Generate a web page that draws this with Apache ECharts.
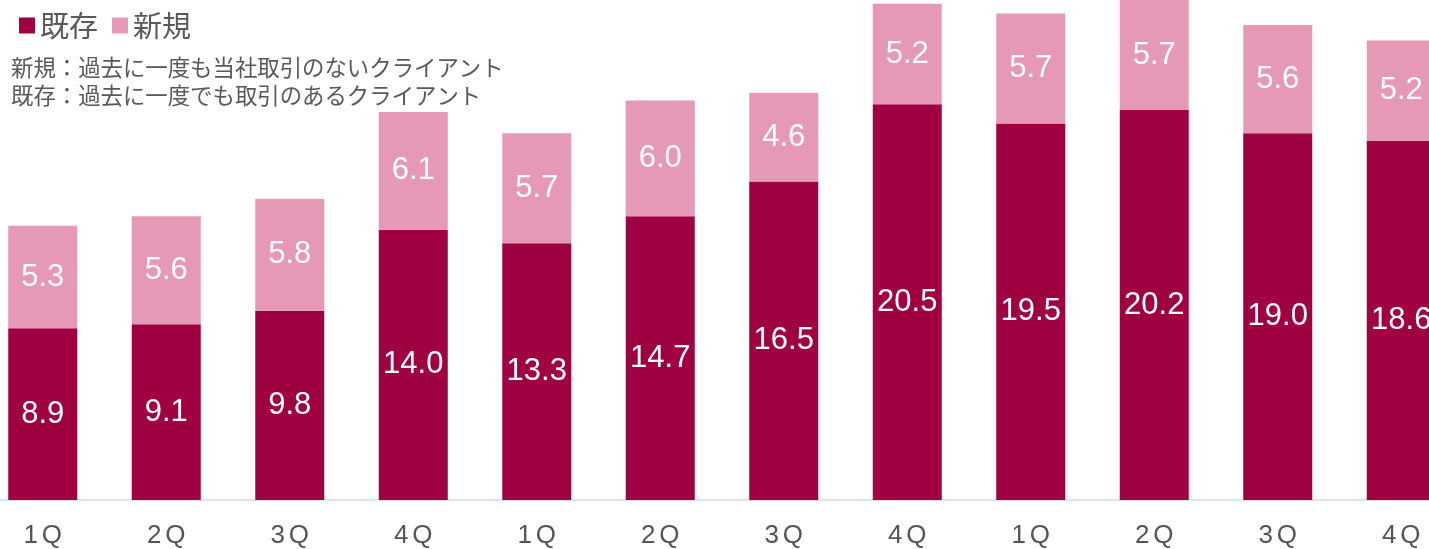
<!DOCTYPE html>
<html>
<head>
<meta charset="utf-8">
<script src="https://cdn.jsdelivr.net/npm/echarts@6/dist/echarts.min.js"></script>
<style>
html,body{margin:0;padding:0;background:#fff;overflow:hidden;width:1429px;height:549px;}
#main{width:1482px;height:549px;margin-left:-19px;}
</style>
</head>
<body>
<div id="main"></div>
<script>
const categories = ['1Q','2Q','3Q','4Q','1Q','2Q','3Q','4Q','1Q','2Q','3Q','4Q'];
const existingValues = [8.9, 9.1, 9.8, 14.0, 13.3, 14.7, 16.5, 20.5, 19.5, 20.2, 19.0, 18.6];
const newValues = [5.3, 5.6, 5.8, 6.1, 5.7, 6.0, 4.6, 5.2, 5.7, 5.7, 5.6, 5.2];
const seriesNames = ['既存', '新規'];
const noteLines = ['新規：過去に一度も当社取引のないクライアント', '既存：過去に一度でも取引のあるクライアント'];

const chart = echarts.init(document.getElementById('main'), null, {renderer: 'canvas'});
const numFont = '"Liberation Sans", Arial, sans-serif';
const jpFont = '"Noto Sans CJK JP", sans-serif';
const labelCfg = {
  show: true,
  position: 'inside',
  color: '#ffffff',
  fontSize: 31,
  fontFamily: numFont,
  formatter: p => p.value.toFixed(1)
};
chart.setOption({
  animation: false,
  backgroundColor: '#ffffff',
  legend: {
    left: 33,
    top: 6,
    icon: 'rect',
    itemWidth: 16,
    itemHeight: 16,
    itemGap: 14,
    textStyle: {fontSize: 29, color: '#595959', fontFamily: jpFont},
    data: seriesNames
  },
  graphic: [{
    type: 'text',
    left: 30,
    top: 53,
    style: {
      text: noteLines.join('\n'),
      fontSize: 22.4,
      lineHeight: 28,
      fill: '#595959',
      fontFamily: jpFont
    }
  }],
  grid: {left: 0, right: 0, top: 0, bottom: 45},
  xAxis: {
    type: 'category',
    data: categories,
    axisLine: {lineStyle: {color: '#d9d9d9', width: 1.5}},
    axisTick: {show: false},
    axisLabel: {
      margin: 23,
      formatter: v => '{d|' + v.slice(0, -1) + '}{q|' + v.slice(-1) + '}',
      rich: {
        d: {fontSize: 26, color: '#555555', fontFamily: numFont, padding: [0, 4, 0, 0]},
        q: {fontSize: 26, color: '#555555', fontFamily: numFont}
      }
    }
  },
  yAxis: {
    type: 'value',
    min: 0,
    max: 25.9,
    show: false,
    splitLine: {show: false}
  },
  series: [{
    name: seriesNames[0],
    type: 'bar',
    stack: 'total',
    barWidth: 69,
    data: existingValues,
    itemStyle: {color: '#9e0042'},
    label: labelCfg
  }, {
    name: seriesNames[1],
    type: 'bar',
    stack: 'total',
    barWidth: 69,
    data: newValues,
    itemStyle: {color: '#e599b7'},
    label: labelCfg
  }]
});
</script>
</body>
</html>
